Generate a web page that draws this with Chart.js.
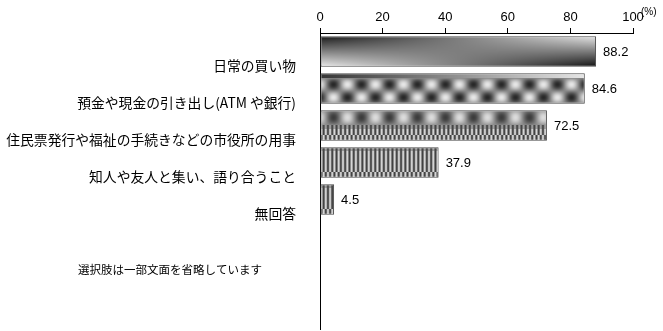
<!DOCTYPE html>
<html>
<head>
<meta charset="utf-8">
<script src="https://cdn.jsdelivr.net/npm/chart.js@4/dist/chart.umd.min.js"></script>
<style>
  body { margin: 0; background: #fff; }
  #wrap { width: 663px; height: 331px; }
</style>
</head>
<body>
<div id="wrap"><canvas id="c" width="663" height="331"></canvas></div>
<script>
const categories = ["日常の買い物", "預金や現金の引き出し(ATM や銀行)", "住民票発行や福祉の手続きなどの市役所の用事", "知人や友人と集い、語り合うこと", "無回答", "", "", ""]
const values = [88.2, 84.6, 72.5, 37.9, 4.5, null, null, null]
const xTicks = [0, 20, 40, 60, 80, 100]
const unitLabel = "(%)"
const note = "選択肢は一部文面を省略しています"

const JP = '"Noto Sans CJK JP", "Liberation Sans", sans-serif'
const AR = '"Liberation Sans", Arial, sans-serif'

// gray level functions for the pattern fills, one per bar
function stripes(x, y, h, period){
    var ph = y > h - 7 ? Math.PI : 0
    var k = y < 4 ? 0.6 : 1
    return 140 + 75 * k * Math.cos(2 * Math.PI * x / period + ph) - (y < 4 ? 25 : 0)
}
function fillBar0(x, y, w, h){
    var t = x / w, s = y / h
    var top = 25 + 205 * t
    var bot = 240 - 230 * t
    return top * (1 - s) + bot * s
}
function fillBar1(x, y, w, h){
    if (y < 5) return 55 + 175 * (x / w)
    var yy = y - 5
    return 135 - 95 * Math.cos(2 * Math.PI * (x - 12) / 28) * Math.cos(2 * Math.PI * (yy - 6) / 26)
}
function fillBar2(x, y, w, h){
    if (y < 15) return 140 - 80 * Math.cos(2 * Math.PI * (x - 12) / 28) * Math.sin(Math.PI * (y + 1) / 16)
    return stripes(x, y - 15, h - 15, 4.3)
}
function fillBar3(x, y, w, h){
    return stripes(x, y, h, 4.3)
}
function fillBar4(x, y, w, h){
    return stripes(x, y, h, 4.3)
}
const fills = [fillBar0, fillBar1, fillBar2, fillBar3, fillBar4]

function makePattern(ctx, fn, left, top, w, h){
    w = Math.max(1, Math.round(w)); h = Math.max(1, Math.round(h))
    var off = document.createElement("canvas")
    off.width = w; off.height = h
    var octx = off.getContext("2d")
    var img = octx.createImageData(w, h)
    for (var y = 0; y < h; y++){
        for (var x = 0; x < w; x++){
            var v = Math.max(0, Math.min(255, fn(x, y, w, h)))
            var i = (y * w + x) * 4
            img.data[i] = v; img.data[i+1] = v; img.data[i+2] = v; img.data[i+3] = 255
        }
    }
    octx.putImageData(img, 0, 0)
    var p = ctx.createPattern(off, "no-repeat")
    p.setTransform(new DOMMatrix().translate(Math.round(left), Math.round(top)))
    return p
}

const patternPlugin = {
    id: "patterns",
    beforeDatasetsDraw(chart){
        var meta = chart.getDatasetMeta(0)
        meta.data.forEach((el, i) => {
            if (values[i] == null || !fills[i]) return
            var p = el.getProps(["x", "y", "base", "height"], true)
            var left = Math.min(p.x, p.base), w = Math.abs(p.x - p.base)
            // own options object per bar so the patterns don't overwrite each other
            el.options = Object.assign({}, el.options, {
                backgroundColor: makePattern(chart.ctx, fills[i], left, p.y - p.height / 2, w, p.height)
            })
        })
    },
    afterDatasetsDraw(chart){
        var ctx = chart.ctx
        var meta = chart.getDatasetMeta(0)
        ctx.save()
        ctx.fillStyle = "#000"
        ctx.font = "13px " + AR
        ctx.textBaseline = "middle"
        ctx.textAlign = "left"
        meta.data.forEach((el, i) => {
            if (values[i] == null) return
            ctx.fillText(values[i].toFixed(1), el.x + 7, el.y + 1)
        })
        ctx.restore()
    },
    afterDraw(chart){
        var ctx = chart.ctx
        ctx.save()
        ctx.fillStyle = "#000"
        ctx.font = "10px " + AR
        ctx.textBaseline = "middle"
        ctx.fillText(unitLabel, chart.chartArea.right + 8, 12)
        ctx.font = "11.5px " + JP
        ctx.fillText(note, 78, 270)
        ctx.restore()
    }
}

var chart = new Chart(document.getElementById("c"), {
    type: "bar",
    data: {
        labels: categories,
        datasets: [{
            data: values,
            backgroundColor: (c) => "#888",
            borderColor: "#4a4a4a",
            borderWidth: 1,
            borderSkipped: false,
            barPercentage: 0.83,
            categoryPercentage: 1.0,
        }],
    },
    options: {
        indexAxis: "y",
        responsive: false,
        animation: false,
        devicePixelRatio: 1,
        layout: { padding: { top: 0, right: 30, bottom: 2, left: 0 } },
        plugins: { legend: { display: false }, tooltip: { enabled: false } },
        scales: {
            x: {
                position: "top",
                min: 0, max: 100,
                afterBuildTicks: (s) => { s.ticks = xTicks.map(v => ({ value: v })) },
                afterFit: (s) => { s.height = 33 },
                grid: { drawOnChartArea: false, drawTicks: true, tickLength: 5, color: "#000" },
                border: { color: "#000", width: 1 },
                ticks: { color: "#000", font: { family: AR, size: 13 }, padding: 3, maxRotation: 0 },
            },
            y: {
                afterFit: (s) => { s.width = 320; s.paddingTop = 0; s.paddingBottom = 0 },
                grid: { drawOnChartArea: false, drawTicks: false, color: "#000" },
                border: { color: "#000", width: 1 },
                ticks: { color: "#000", font: { family: JP, size: 13.8 }, padding: 24, labelOffset: 14, autoSkip: false },
            },
        },
    },
    plugins: [patternPlugin],
})
</script>
</body>
</html>
